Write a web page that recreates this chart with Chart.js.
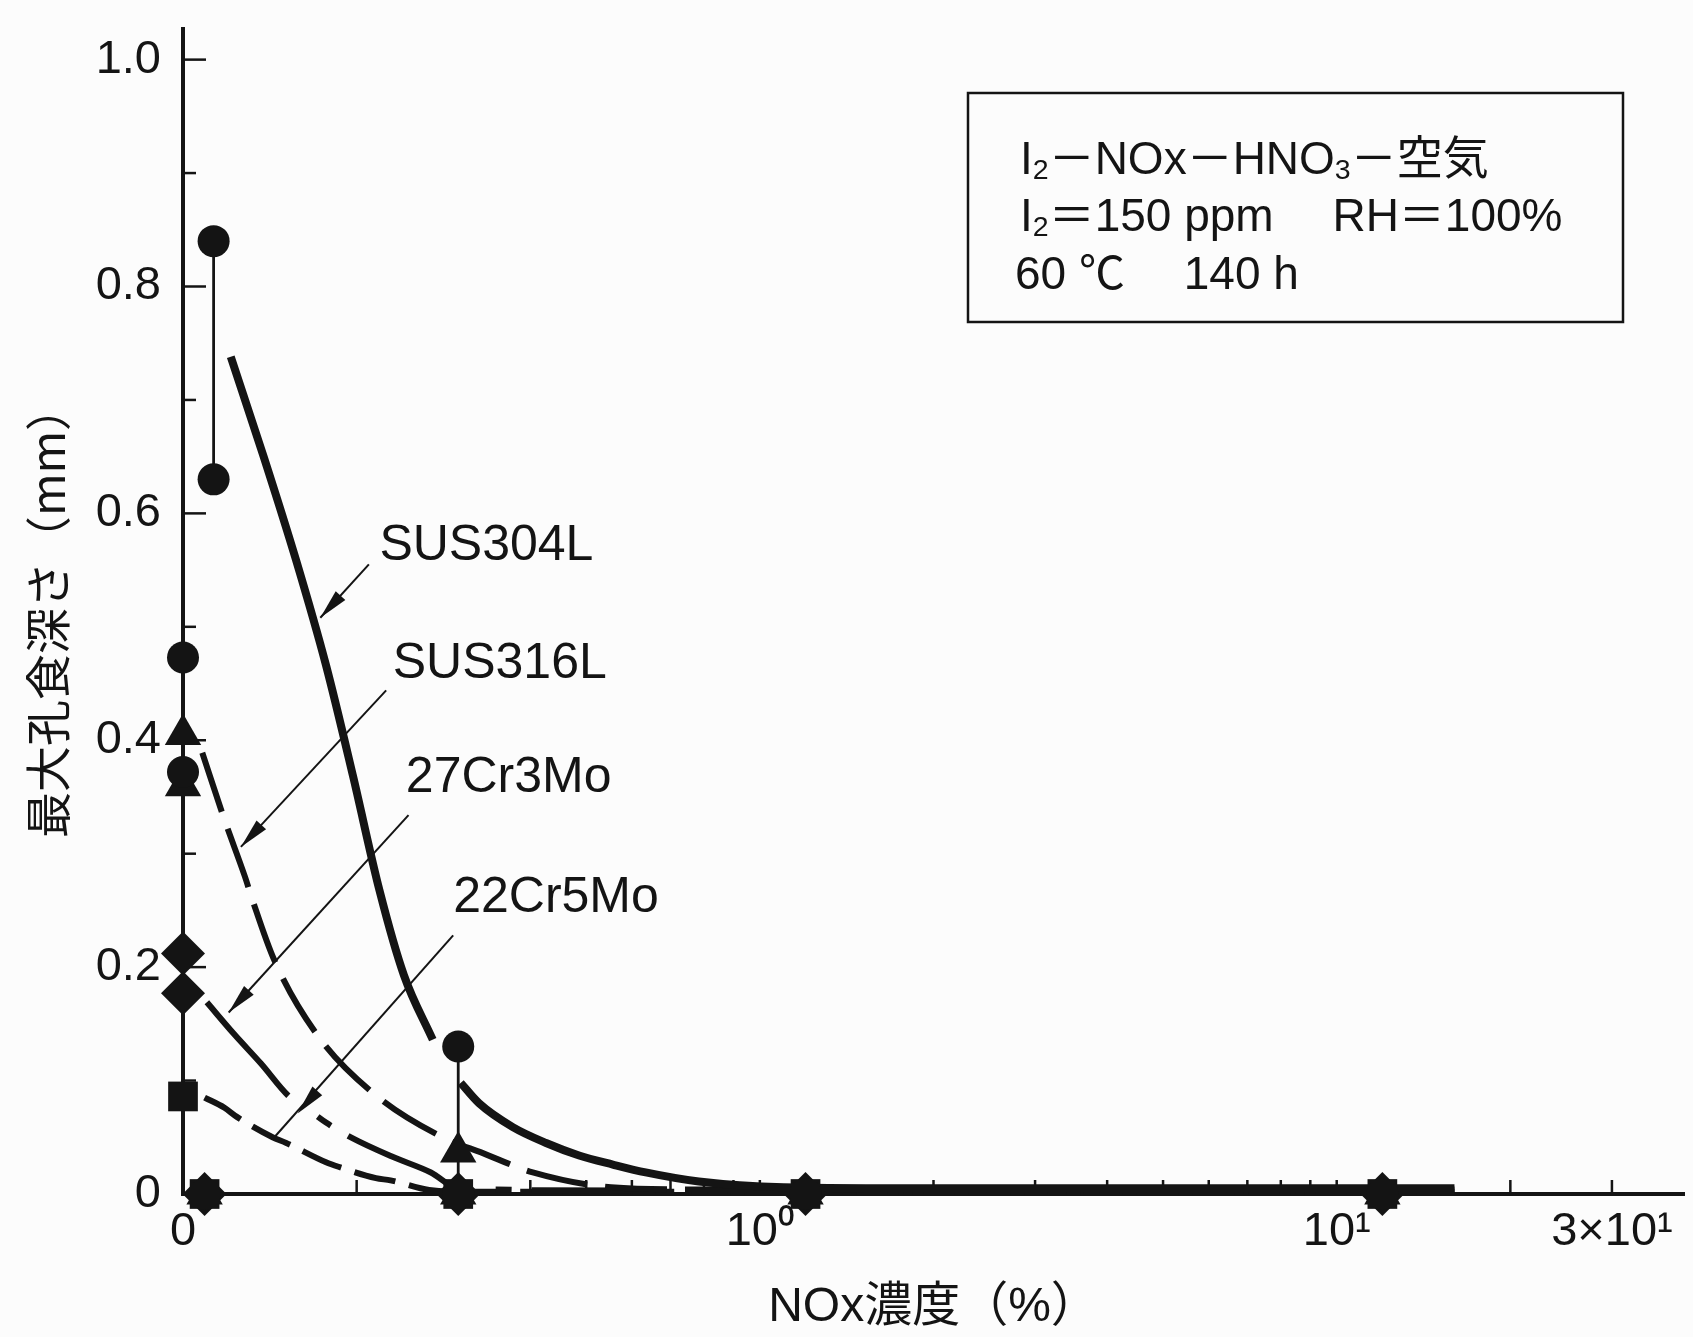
<!DOCTYPE html>
<html>
<head>
<meta charset="utf-8">
<script src="https://cdn.jsdelivr.net/npm/chart.js@4.4.1/dist/chart.umd.min.js"></script>
<style>
html,body{margin:0;padding:0;background:#fcfcfc;}
canvas{display:block;}
</style>
</head>
<body>
<canvas id="c" width="1693" height="1337" style="width:1693px;height:1337px"></canvas>
<script>
// ---------------- DATA ----------------
// x axis: NOx concentration (%), log scale; the origin (labelled "0") sits at 0.1
const xMin = 0.1, xMax = 40;
const xTickValues = [0.1,0.2,0.3,0.4,0.5,0.6,0.7,0.8,0.9,1,2,3,4,5,6,7,8,9,10,20,30];
const xLabelValues = [0.1, 1, 10, 30];
const xLabelTexts  = ['0', '10⁰', '10¹', '3×10¹'];
// y axis: max pit depth (mm)
const yMin = 0, yMax = 1.027;
const yTickValues  = [0,0.1,0.2,0.3,0.4,0.5,0.6,0.7,0.8,0.9,1.0];
const yLabelValues = [0,0.2,0.4,0.6,0.8,1.0];
const yLabelTexts  = ['0','0.2','0.4','0.6','0.8','1.0'];

const seriesNames = ['SUS304L','SUS316L','27Cr3Mo','22Cr5Mo'];

// measured points
const sus304L_x = [0.113, 0.113, 0.1, 0.1, 0.3, 0.109, 0.3, 1.2, 12];
const sus304L_y = [0.84, 0.63, 0.473, 0.372, 0.13, 0, 0, 0, 0];
const sus316L_x = [0.1, 0.1, 0.3, 0.109, 0.3, 1.2, 12];
const sus316L_y = [0.405, 0.36, 0.037, 0, 0, 0, 0];
const cr27_x = [0.1, 0.1, 0.109, 0.3, 1.2, 12];
const cr27_y = [0.212, 0.177, 0, 0, 0, 0];
const cr22_x = [0.1, 0.109, 0.3, 1.2, 12];
const cr22_y = [0.086, 0, 0, 0, 0];

// scatter ranges (vertical bars)
const rangeX    = [0.113, 0.3];
const rangeLow  = [0.63, 0];
const rangeHigh = [0.84, 0.13];

// drawn trend curves
const sus304L_cx = [0.121,0.138,0.157,0.177,0.197,0.219,0.2415,0.271,0.287,0.303,0.326,0.373,0.426,0.486,0.556,0.634,0.784,1.1,2,5,16];
const sus304L_cy = [0.738,0.650,0.559,0.466,0.369,0.268,0.193,0.136,null,0.098,0.080,0.059,0.045,0.034,0.026,0.019,0.011,0.006,0.005,0.005,0.005];
const sus316L_cx = [0.108,0.118,0.128,0.132,0.144,0.171,0.216,0.282,0.331,0.404,0.552,0.8,16];
const sus316L_cy = [0.389,0.330,0.280,0.259,0.206,0.140,0.087,0.050,0.036,0.019,0.006,0.004,0.004];
const cr27_cx = [0.110,0.1226,0.1365,0.1527,0.1633,0.177,0.197,0.2303,0.269,0.3,0.6,16];
const cr27_cy = [0.169,0.141,0.115,0.086,0.076,0.063,0.049,0.033,0.019,0.005,0.003,0.003];
const cr22_cx = [0.109,0.118,0.124,0.143,0.151,0.177,0.186,0.216,0.229,0.267,0.3,0.6,16];
const cr22_cy = [0.085,0.076,0.068,0.050,0.045,0.028,0.024,0.014,0.012,0.0035,0.002,0.002,0.002];

// label annotations (data coordinates)
const labelX = [0.219, 0.231, 0.2434, 0.294];
const labelY = [0.559, 0.455, 0.354, 0.249];
const arrowStartX = [0.21, 0.225, 0.246, 0.294];
const arrowStartY = [0.555, 0.444, 0.334, 0.228];
const arrowHeadX  = [0.173, 0.126, 0.12, 0.158];
const arrowHeadY  = [0.508, 0.306, 0.16, 0.071];
const arrowEndX   = [0.173, 0.126, 0.12, 0.144];
const arrowEndY   = [0.508, 0.306, 0.16, 0.050];

// condition box text
const boxLines = [
  [{t:'I'},{t:'2',sub:true},{t:'－NOx－HNO'},{t:'3',sub:true},{t:'－空気'}],
  [{t:'I'},{t:'2',sub:true},{t:'＝150 ppm　 RH＝100%'}],
  [{t:'60 ℃　 140 h'}]
];

const xTitle = 'NOx濃度（%）';
const yTitle = '最大孔食深さ（mm）';

// ---------------- CHART ----------------
const INK = '#141414';
const LAT = '"Liberation Sans", Arial, "Noto Sans CJK JP", sans-serif';
const pts = (xs, ys) => xs.map((x,i) => ({x:x, y:ys[i]}));

const markerCommon = {showLine:false, backgroundColor:INK, borderColor:INK, borderWidth:0, clip:false};
const curveCommon = {showLine:true, pointRadius:0, borderColor:INK, backgroundColor:INK, fill:false,
  cubicInterpolationMode:'monotone', spanGaps:false, clip:false, borderCapStyle:'butt'};

const datasets = [
  Object.assign({label:seriesNames[0], data:pts(sus304L_x,sus304L_y), pointStyle:'circle', pointRadius:16}, markerCommon),
  Object.assign({label:seriesNames[1], data:pts(sus316L_x,sus316L_y), pointStyle:'triangle', pointRadius:21}, markerCommon),
  Object.assign({label:seriesNames[2], data:pts(cr27_x,cr27_y), pointStyle:'rectRot', pointRadius:22}, markerCommon),
  Object.assign({label:seriesNames[3], data:pts(cr22_x,cr22_y), pointStyle:'rect', pointRadius:21}, markerCommon),
];
rangeX.forEach((x,i) => datasets.push(Object.assign({label:'range'+i,
  data:[{x:x,y:rangeLow[i]},{x:x,y:rangeHigh[i]}], borderWidth:2.8}, curveCommon, {cubicInterpolationMode:'default', tension:0})));
datasets.push(Object.assign({label:seriesNames[0]+' curve', data:pts(sus304L_cx,sus304L_cy), borderWidth:8}, curveCommon));
datasets.push(Object.assign({label:seriesNames[1]+' curve', data:pts(sus316L_cx,sus316L_cy), borderWidth:6, borderDash:[62,18]}, curveCommon));
datasets.push(Object.assign({label:seriesNames[2]+' curve', data:pts(cr27_cx,cr27_cy), borderWidth:6, borderDash:[124,36,16,20]}, curveCommon));
datasets.push(Object.assign({label:seriesNames[3]+' curve', data:pts(cr22_cx,cr22_cy), borderWidth:6, borderDash:[42,14]}, curveCommon));

function drawArrow(ctx, x1, y1, hx, hy, ex, ey) {
  ctx.beginPath(); ctx.moveTo(x1,y1); ctx.lineTo(ex,ey); ctx.stroke();
  const a = Math.atan2(hy-y1, hx-x1), len = 30, hw = 6.5;
  const bx = hx - len*Math.cos(a), by = hy - len*Math.sin(a);
  ctx.beginPath(); ctx.moveTo(hx,hy);
  ctx.lineTo(bx + hw*Math.sin(a), by - hw*Math.cos(a));
  ctx.lineTo(bx - hw*Math.sin(a), by + hw*Math.cos(a));
  ctx.closePath(); ctx.fill();
}
function drawRich(ctx, x, y, segs, size) {
  let cx = x;
  segs.forEach(s => {
    const fs = s.sub ? size*0.62 : size;
    ctx.font = fs + 'px ' + LAT;
    ctx.fillText(s.t, cx, y + (s.sub ? size*0.1 : 0));
    cx += ctx.measureText(s.t).width;
  });
}

const annot = {
  id:'annot',
  beforeDatasetsDraw(chart) {
    const {ctx, scales:{x, y}} = chart;
    ctx.save();
    ctx.strokeStyle = INK; ctx.lineWidth = 2.5;
    const y0 = y.getPixelForValue(0), x0 = x.getPixelForValue(xTickValues[0]);
    xTickValues.forEach(v => {
      if (v === xTickValues[0]) return;
      const px = x.getPixelForValue(v);
      ctx.beginPath(); ctx.moveTo(px, y0); ctx.lineTo(px, y0 - 14); ctx.stroke();
    });
    yTickValues.forEach((v, i) => {
      if (i === 0) return;
      const py = y.getPixelForValue(v);
      const len = (i % 2 === 0) ? 23 : 13;
      ctx.beginPath(); ctx.moveTo(x0, py); ctx.lineTo(x0 + len, py); ctx.stroke();
    });
    ctx.restore();
  },
  afterDatasetsDraw(chart) {
    const {ctx, scales:{x, y}} = chart;
    ctx.save();
    ctx.fillStyle = INK; ctx.strokeStyle = INK; ctx.lineWidth = 2;
    for (let i = 0; i < seriesNames.length; i++) {
      drawArrow(ctx, x.getPixelForValue(arrowStartX[i]), y.getPixelForValue(arrowStartY[i]),
        x.getPixelForValue(arrowHeadX[i]), y.getPixelForValue(arrowHeadY[i]),
        x.getPixelForValue(arrowEndX[i]), y.getPixelForValue(arrowEndY[i]));
      ctx.font = '50px ' + LAT;
      ctx.textBaseline = 'alphabetic'; ctx.textAlign = 'left';
      ctx.fillText(seriesNames[i], x.getPixelForValue(labelX[i]), y.getPixelForValue(labelY[i]));
    }
    // condition box
    ctx.lineWidth = 2.5;
    ctx.strokeRect(968, 93, 655, 229);
    const baselines = [174, 231, 289];
    const lefts = [1020, 1020, 1015];
    boxLines.forEach((segs, i) => drawRich(ctx, lefts[i], baselines[i], segs, 46));
    ctx.restore();
  }
};

new Chart(document.getElementById('c'), {
  type:'scatter',
  data:{datasets:datasets},
  options:{
    responsive:false, animation:false, devicePixelRatio:1, events:[],
    layout:{autoPadding:false, padding:{top:29, right:9, bottom:0, left:0}},
    plugins:{legend:{display:false}, tooltip:{enabled:false}},
    scales:{
      x:{
        type:'logarithmic', position:'bottom', min:xMin, max:xMax, bounds:'data',
        grid:{display:false, drawTicks:false},
        border:{display:true, color:INK, width:4},
        afterBuildTicks:s => { s.ticks = xTickValues.concat([xMax]).map(v => ({value:v})); },
        afterFit:s => { s.height = 143; s.paddingLeft = 0; s.paddingRight = 0; },
        ticks:{autoSkip:false, maxRotation:0, minRotation:0, padding:10, color:INK,
          font:{family:LAT, size:47},
          callback:v => { const i = xLabelValues.findIndex(t => Math.abs(t - v) < 1e-9); return i >= 0 ? xLabelTexts[i] : null; }},
        title:{display:true, text:xTitle, color:INK, padding:{top:0, bottom:0},
          font:{family:LAT, size:48}}
      },
      y:{
        type:'linear', min:yMin, max:yMax,
        grid:{display:false, drawTicks:false},
        border:{display:true, color:INK, width:4},
        afterBuildTicks:s => { s.ticks = yTickValues.map(v => ({value:v})); },
        afterFit:s => { s.width = 183; s.paddingTop = 0; s.paddingBottom = 0; },
        ticks:{autoSkip:false, padding:22, color:INK, font:{family:LAT, size:47},
          callback:v => { const i = yLabelValues.findIndex(t => Math.abs(t - v) < 1e-9); return i >= 0 ? yLabelTexts[i] : ''; }},
        title:{display:true, text:yTitle, color:INK, padding:{top:20, bottom:0},
          font:{family:'"Noto Sans CJK JP", "Liberation Sans", sans-serif', size:46}}
      }
    }
  },
  plugins:[annot]
});
</script>
</body>
</html>
